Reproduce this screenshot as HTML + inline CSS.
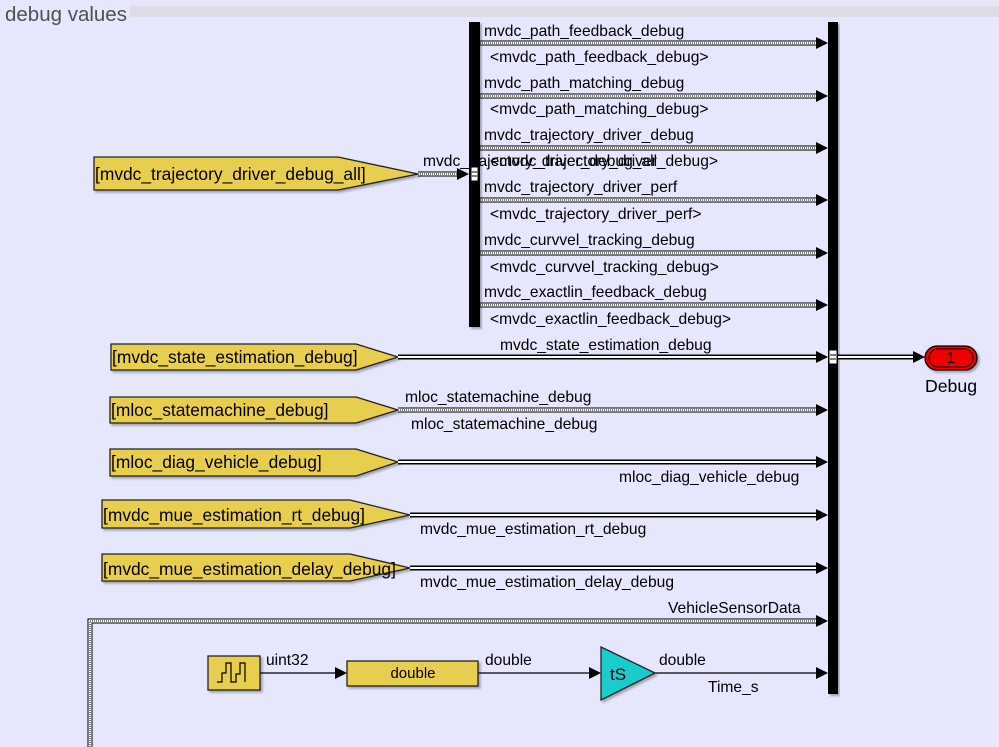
<!DOCTYPE html>
<html><head><meta charset="utf-8"><style>
html,body{margin:0;padding:0;background:#e6e6fc;}
svg{display:block;font-family:"Liberation Sans",sans-serif;}
</style></head><body>
<svg width="999" height="747" viewBox="0 0 999 747" xmlns="http://www.w3.org/2000/svg">
<defs>
<filter id="sh" x="-10%" y="-10%" width="130%" height="140%"><feDropShadow dx="2" dy="2" stdDeviation="1" flood-color="#000" flood-opacity="0.3"/></filter>
</defs>
<rect width="999" height="747" fill="#e6e6fc"/>
<rect x="130" y="6" width="869" height="11" fill="#dedce6"/>
<text x="5" y="21" font-size="20.5" fill="#505050">debug values</text>

<g font-size="15.6" fill="#000">
<path d="M480 43H820 M480 96H820 M480 148H820 M480 200H820 M480 253H820 M480 305H820" stroke="#000" stroke-width="5" fill="none"/>
<path d="M480 43H820 M480 96H820 M480 148H820 M480 200H820 M480 253H820 M480 305H820" stroke="#fff" stroke-width="3" fill="none"/>
<path d="M480 43H820 M480 96H820 M480 148H820 M480 200H820 M480 253H820 M480 305H820" stroke="#000" stroke-width="1" stroke-dasharray="1 1" fill="none"/>
<path d="M816 37L828 43L816 49z M816 90L828 96L816 102z M816 142L828 148L816 154z M816 194L828 200L816 206z M816 247L828 253L816 259z M816 299L828 305L816 311z"/>
<text x="484" y="36">mvdc_path_feedback_debug</text>
<text x="490" y="62">&lt;mvdc_path_feedback_debug&gt;</text>
<text x="484" y="88">mvdc_path_matching_debug</text>
<text x="490" y="114">&lt;mvdc_path_matching_debug&gt;</text>
<text x="484" y="140">mvdc_trajectory_driver_debug</text>
<text x="490" y="166">&lt;mvdc_trajectory_driver_debug&gt;</text>
<text x="484" y="192">mvdc_trajectory_driver_perf</text>
<text x="490" y="219">&lt;mvdc_trajectory_driver_perf&gt;</text>
<text x="484" y="245">mvdc_curvvel_tracking_debug</text>
<text x="490" y="272">&lt;mvdc_curvvel_tracking_debug&gt;</text>
<text x="484" y="297">mvdc_exactlin_feedback_debug</text>
<text x="490" y="324">&lt;mvdc_exactlin_feedback_debug&gt;</text>

<path d="M418 174H460" stroke="#000" stroke-width="5"/>
<path d="M418 174H460" stroke="#fff" stroke-width="3"/>
<path d="M418 174H460" stroke="#000" stroke-width="1" stroke-dasharray="1 1"/>
<path d="M457 168L469 174L457 180z"/>
<text x="423" y="166">mvdc_trajectory_driver_debug_all</text>

<rect x="469" y="22" width="11" height="305" fill="#000" filter="url(#sh)"/>
<rect x="471" y="167" width="7" height="14" fill="#fff" stroke="#000" stroke-width="1"/>
<path d="M472 172H477M472 176H477" stroke="#000"/>
<rect x="828" y="22" width="10" height="672" fill="#000" filter="url(#sh)"/>
<rect x="829" y="350" width="8" height="14" fill="#fff" stroke="#000"/>
<path d="M830 355H836M830 359H836" stroke="#000"/>

<g fill="#e8ce50" stroke="#222" stroke-width="1.3" filter="url(#sh)">
<path d="M94 157H338L418 174L338 190H94z"/>
<path d="M111 344H356L398 357L356 370H111z"/>
<path d="M110 397H356L398 410L356 423H110z"/>
<path d="M110 449H356L398 462L356 476H110z"/>
<path d="M102 500H350L410 515L350 528H102z"/>
<path d="M102 554H350L410 568L350 581H102z"/>
</g>
<g font-size="17.4">
<text x="95" y="180">[mvdc_trajectory_driver_debug_all]</text>
<text x="112" y="363">[mvdc_state_estimation_debug]</text>
<text x="111" y="416">[mloc_statemachine_debug]</text>
<text x="111" y="468">[mloc_diag_vehicle_debug]</text>
<text x="103" y="521">[mvdc_mue_estimation_rt_debug]</text>
<text x="103" y="575">[mvdc_mue_estimation_delay_debug]</text>
</g>

<g fill="none">
<path d="M398 357H820 M838 357H916 M398 462H820 M410 515H820 M410 568H820" stroke="#000" stroke-width="5"/>
<path d="M398 357H820 M838 357H916 M398 462H820 M410 515H820 M410 568H820" stroke="#fff" stroke-width="2"/>
<path d="M398 410H820" stroke="#000" stroke-width="5"/>
<path d="M398 410H820" stroke="#fff" stroke-width="3"/>
<path d="M398 410H820" stroke="#000" stroke-width="1" stroke-dasharray="1 1"/>
<path d="M90 747V621H820" stroke="#000" stroke-width="5"/>
<path d="M90 747V621H820" stroke="#fff" stroke-width="3"/>
<path d="M90 747V621H820" stroke="#000" stroke-width="1" stroke-dasharray="1 1"/>
</g>
<path d="M816 351L828 357L816 363z M913 351L925 357L913 363z M816 404L828 410L816 416z M816 456L828 462L816 468z M816 509L828 515L816 521z M816 562L828 568L816 574z M816 615L828 621L816 627z M816 667L828 673L816 679z M335 667L347 673L335 679z M589 667L601 673L589 679z"/>
<text x="500" y="350">mvdc_state_estimation_debug</text>
<text x="405" y="402">mloc_statemachine_debug</text>
<text x="411" y="429">mloc_statemachine_debug</text>
<text x="619" y="482">mloc_diag_vehicle_debug</text>
<text x="420" y="534">mvdc_mue_estimation_rt_debug</text>
<text x="420" y="587">mvdc_mue_estimation_delay_debug</text>
<text x="668" y="613">VehicleSensorData</text>

<rect x="925" y="346" width="52" height="24" rx="12" fill="#e00" stroke="#000" stroke-width="1.3" filter="url(#sh)"/>
<rect x="929" y="349" width="44" height="18" rx="9" fill="none" stroke="#000" stroke-width="1"/>
<text x="951" y="363" text-anchor="middle">1</text>
<text x="951" y="392" text-anchor="middle" font-size="17.7">Debug</text>

<path d="M260 673H340 M478 673H594 M655 673H820" stroke="#000" stroke-width="1.2"/>
<rect x="208" y="656" width="52" height="34" fill="#e8ce50" stroke="#222" stroke-width="1.3" filter="url(#sh)"/>
<path d="M217 682H222V673H226V663H231V682H236V674H240V663H245V682" fill="none" stroke="#000" stroke-width="1.2"/>
<text x="266" y="665">uint32</text>
<rect x="347" y="661" width="131" height="25" fill="#e8ce50" stroke="#222" stroke-width="1.3" filter="url(#sh)"/>
<text x="413" y="678" text-anchor="middle" font-size="15">double</text>
<text x="485" y="665">double</text>
<path d="M601 647L655 673L601 700z" fill="#1ccccc" stroke="#222" stroke-width="1.3" filter="url(#sh)"/>
<text x="610" y="680" font-size="17">tS</text>
<text x="659" y="665">double</text>
<text x="708" y="692">Time_s</text>
</g>
</svg>
</body></html>
